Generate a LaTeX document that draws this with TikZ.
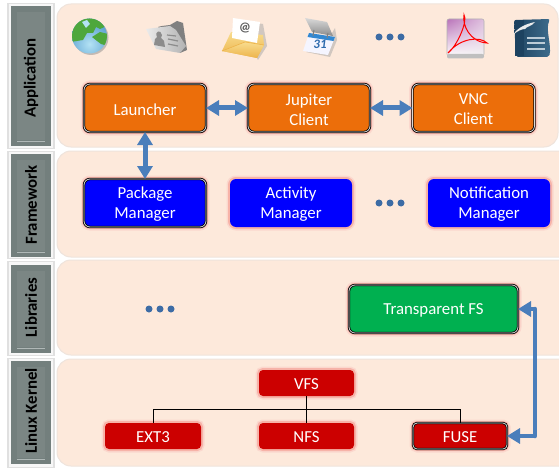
\documentclass[tikz,border=0pt]{standalone}
\usepackage{fontspec}
\setmainfont{Carlito}
\usetikzlibrary{arrows.meta,shadings}
\definecolor{panelfill}{HTML}{FDE9DB}
\definecolor{panelline}{HTML}{EFE4DC}
\definecolor{glowa}{HTML}{FBD8CE}
\definecolor{glowb}{HTML}{F7B3A8}
\definecolor{arrowblue}{HTML}{4A7EBB}
\definecolor{dotblue}{HTML}{3D6CA5}
\definecolor{sidedark}{HTML}{737F7D}
\definecolor{sidemid}{HTML}{7B8684}
\definecolor{sidelight}{HTML}{B0B8B7}
\definecolor{orangebox}{HTML}{EC6E0A}
\definecolor{bluebox}{HTML}{0000FF}
\definecolor{greenbox}{HTML}{00B050}
\definecolor{redbox}{HTML}{CC0000}
\definecolor{writerdark}{HTML}{1D4260}
\definecolor{writerlight}{HTML}{3F6E8E}
\definecolor{goldtop}{HTML}{F8DC8E}
\definecolor{goldbot}{HTML}{EDB34A}
\definecolor{seablue}{HTML}{B4E2F4}
\definecolor{seadeep}{HTML}{4E98CC}
\definecolor{landgreen}{HTML}{4EA73C}
\tikzset{
  boxshape/.style={rounded corners=#1, inner sep=0pt, outer sep=0pt},
  plainedge/.style={draw=none},
  dbledge/.style={draw=black, line width=.8pt, double=white!85!black, double distance=.8pt},
  boxlabel/.style={inner sep=0pt, align=center, text=white, font=\fontsize{16.8}{20}\selectfont},
  panel/.style={fill=panelfill, draw=panelline, line width=1pt, rounded corners=14pt},
  sidetext/.style={rotate=90, font=\fontsize{16.8}{20}\selectfont\bfseries, text=black, inner sep=0pt},
  dblarrow/.style={{Triangle[width=15pt,length=13pt]}-{Triangle[width=15pt,length=13pt]}, draw=arrowblue, line width=5pt},
  onearrow/.style={-{Triangle[width=15pt,length=13pt]}, draw=arrowblue, line width=4.5pt},
  shaftline/.style={draw=arrowblue, line width=4.5pt, line cap=round},
  dotmark/.style={circle, fill=dotblue, inner sep=0pt, minimum size=7pt},
  treeline/.style={draw=black, line width=1pt}
}
% name, x, y, w, h, corner radius, fill, edge style, text
\newcommand{\glowbox}[9]{%
  \draw[glowa, line width=7pt, rounded corners=#6] ({#2-#4/2},{#3-#5/2}) rectangle ({#2+#4/2},{#3+#5/2});
  \draw[glowb, line width=4pt, rounded corners=#6] ({#2-#4/2},{#3-#5/2}) rectangle ({#2+#4/2},{#3+#5/2});
  \node[boxshape=#6, fill=#7, #8, minimum width=#4 pt, minimum height=#5 pt] (#1) at (#2,#3) {};
  \node[boxlabel] (#1-label) at (#2,#3+1.5) {#9};
}
% top outer, bottom outer, top inner, bottom inner, text, text centre
\newcommand{\sidebar}[6]{%
  \fill[white!88!black] (7,#1) rectangle (55,#2);
  \fill[white!97!black] (9,#1+1) rectangle (53,#2-1);
  \fill[sidedark] (11,#3) rectangle (51,#4);
  \fill[sidemid] (17,#3+6) rectangle (45,#4-6);
  \draw[sidelight, line width=1pt] (17,#4-5) -- (45,#4-5);
  \node[sidetext] (#5) at (31,#6) {#5};
}
\begin{document}
\begin{tikzpicture}[x=1pt,y=-1pt]
\useasboundingbox (0,0) rectangle (559,468);
\fill[white] (0,0) rectangle (559,468);
% panels
\draw[panel] (57,4) rectangle (558,147);
\draw[panel] (57,151) rectangle (575,257);
\draw[panel] (57,260) rectangle (575,355);
\draw[panel] (57,359) rectangle (575,466);
% side labels
\sidebar{3}{149}{6}{146}{Application}{78}
\sidebar{151}{259}{154}{257}{Framework}{205}
\sidebar{261}{356}{265}{353}{Libraries}{307.5}
\sidebar{358}{468}{361}{464}{Linux Kernel}{411}
% globe
\fill[black!45, opacity=.5] (91,37.5) circle (17.5);
\begin{scope}
  \clip (89.5,36) circle (17.5);
  \shade[inner color=seablue, outer color=seadeep] (89.5,44) circle (26);
  \fill[landgreen] (70,16) -- (108,16) -- (107,26) -- (100,29) -- (96,27) -- (93,33) -- (87,33) -- (83,40) -- (71,42) -- cycle;
  \fill[landgreen] (92,37) -- (100,32) -- (108,34) -- (108,46) -- (101,44) -- (97,41) -- cycle;
  \fill[seablue] (82,22) -- (87,20) -- (90,24) -- (86,28) -- cycle;
\end{scope}
% contact folder
\fill[black!50] (158,27) -- (162,26) -- (170,25) -- (177,21) -- (183,23) -- (187,50) -- (180,53) -- cycle;
\shade[left color=white!92!black, right color=black!30] (146,29) -- (170,26) -- (176,30) -- (186,46) -- (180,53) -- (156,49) -- cycle;
\fill[black!45] (154,45) -- (155,39) -- (157,37) .. controls (154,31) and (161,29) .. (162,35) -- (161,38) -- (164,41) -- (165,47) -- cycle;
\draw[black!45, line width=1.2pt] (167,35) -- (176,36) (168,39) -- (178,41) (168,44) -- (178,46);
% mail
\fill[black!35, opacity=.5] (236,20) -- (263,24) -- (267,46) -- (258,60) -- cycle;
\shade[top color=goldtop, bottom color=goldbot] (222,51) -- (231,32) -- (263,35) -- (264,45) -- (257,58) -- cycle;
\fill[white] (233,18) -- (260,22) -- (257,43) -- (232,38) -- cycle;
\node[inner sep=0pt, text=black!65, font=\fontsize{13}{13}\selectfont\bfseries] (atsign) at (245,28) {@};
\shade[top color=goldtop, bottom color=goldbot] (222,51) -- (245,42) -- (264,45) -- (257,58) -- cycle;
\draw[goldbot, line width=.6pt] (222,51) -- (245,42) -- (264,45);
% calendar
\fill[black!35, opacity=.5] (306,52) -- (330,57) -- (337,40) -- (335,28) -- (329,38) -- cycle;
\shade[top color=white!85!black, bottom color=black!45] (305,18) -- (327,22) -- (333,36) -- (312,32) -- cycle;
\fill[white!96!blue] (309,33) -- (335,37) -- (328,55) -- (303,51) -- cycle;
\fill[cyan!60!blue!85] (309,33) -- (335,37) -- (333.5,41) -- (307.5,37) -- cycle;
\node[inner sep=0pt, text=cyan!50!blue!85!black, font=\fontsize{13}{13}\selectfont\bfseries\itshape] (calday) at (320,44.5) {31};
\draw[black!50, line width=1pt] (314,30) -- (313,36) (328,33) -- (327,38);
% pdf
\shade[upper left=violet!55!white, upper right=violet!25!white, lower left=white, lower right=white!95!black, draw=black!30, line width=.6pt, rounded corners=2pt] (447,19) rectangle (484,56);
\fill[black!25, rounded corners=2pt] (447,54) rectangle (484,58.5);
\draw[red, line width=1pt] (448,53) .. controls (458,45) and (468,20) .. (464,15) .. controls (462,25) and (470,42) .. (487,43) .. controls (480,36) and (460,38) .. cycle;
% writer
\shade[left color=writerdark, right color=writerlight, rounded corners=2pt] (514,20) -- (550,19) .. controls (545,30) and (552,45) .. (549,57) -- (516,57) -- cycle;
\fill[writerdark] (515,20) rectangle (524,56);
\fill[white!92!black] (513,35) .. controls (518,27) and (526,24) .. (535,22) .. controls (531,27) and (527,26) .. (525,29) .. controls (522,29) and (517,31) .. cycle;
\draw[white!65!writerlight, line width=1.5pt] (527,38) -- (545,38) (527,43) -- (545,43) (527,49) -- (545,49);
% dots
\node[dotmark] (ad1) at (379,37) {};
\node[dotmark] (ad2) at (390,37) {};
\node[dotmark] (ad3) at (401,37) {};
\node[dotmark] (fd1) at (379,203) {};
\node[dotmark] (fd2) at (390,203) {};
\node[dotmark] (fd3) at (401,203) {};
\node[dotmark] (ld1) at (149,309) {};
\node[dotmark] (ld2) at (160,309) {};
\node[dotmark] (ld3) at (171,309) {};
% boxes
\glowbox{launcher}{145}{108}{122}{48}{6pt}{orangebox}{dbledge}{Launcher}
\glowbox{jupiter}{309}{108}{122}{48}{6pt}{orangebox}{dbledge}{Jupiter\\Client}
\glowbox{vnc}{473.5}{108}{122}{48}{6pt}{orangebox}{dbledge}{VNC\\Client}
\glowbox{package}{145}{203}{122}{48}{6pt}{bluebox}{dbledge}{Package\\Manager}
\glowbox{activity}{291}{203}{122}{48}{6pt}{bluebox}{plainedge}{Activity\\Manager}
\glowbox{notification}{489}{203}{122}{48}{6pt}{bluebox}{plainedge}{Notification\\Manager}
\glowbox{tfs}{433.5}{309}{169}{48}{6pt}{greenbox}{dbledge}{Transparent FS}
\glowbox{vfs}{306.5}{383}{95}{26}{4pt}{redbox}{plainedge}{VFS}
\glowbox{ext3}{153}{436}{96}{26}{4pt}{redbox}{plainedge}{EXT3}
\glowbox{nfs}{306.5}{436}{95}{26}{4pt}{redbox}{plainedge}{NFS}
\glowbox{fuse}{460}{436}{94}{26}{4pt}{redbox}{dbledge}{FUSE}
% tree
\draw[treeline] (vfs.south) -- (nfs.north);
\draw[treeline] (vfs.south) -- ++(0,13) -| (ext3.north);
\draw[treeline] (vfs.south) -- ++(0,13) -| (fuse.north);
% arrows
\draw[dblarrow] (launcher.east) -- (jupiter.west);
\draw[dblarrow] (jupiter.east) -- (vnc.west);
\draw[dblarrow] (launcher.south) -- (package.north);
\coordinate (bendtop) at (535,309);
\coordinate (bendbot) at (535,436);
\draw[shaftline] (bendtop) -- (bendbot);
\draw[onearrow] (bendtop) -- (tfs.east);
\draw[onearrow] (bendbot) -- (fuse.east);
\end{tikzpicture}
\end{document}
